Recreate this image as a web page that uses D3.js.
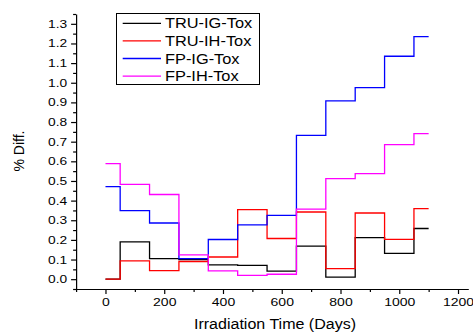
<!DOCTYPE html>
<html>
<head>
<meta charset="utf-8">
<script src="https://cdn.jsdelivr.net/npm/d3@7"></script>
<style>
  body { margin: 0; background: #fff; }
  svg { display: block; font-family: "Liberation Sans", Arial, sans-serif; }
</style>
</head>
<body>
<div id="chart"></div>
<script>
var width = 473;
var height = 333;

// data
var days = [0, 100, 200, 300, 400, 500, 600, 700, 800, 900, 1000, 1100];
var seriesNames = ["TRU-IG-Tox", "TRU-IH-Tox", "FP-IG-Tox", "FP-IH-Tox"];
var seriesColors = ["#000000", "#ff0000", "#0000ff", "#ff00ff"];
var truIG = [0.0, 0.19, 0.105, 0.10, 0.073, 0.07, 0.041, 0.168, 0.01, 0.212, 0.131, 0.258];
var truIH = [0.0, 0.093, 0.044, 0.09, 0.113, 0.354, 0.207, 0.342, 0.054, 0.337, 0.203, 0.359];
var fpIG = [0.471, 0.349, 0.286, 0.105, 0.202, 0.276, 0.325, 0.732, 0.908, 0.975, 1.135, 1.235];
var fpIH = [0.588, 0.483, 0.431, 0.124, 0.042, 0.019, 0.025, 0.357, 0.512, 0.537, 0.685, 0.741];
var xTicks = [0, 200, 400, 600, 800, 1000, 1200];
var xMinor = [-100, 100, 300, 500, 700, 900, 1100];
var yTicks = [0, 0.1, 0.2, 0.3, 0.4, 0.5, 0.6, 0.7, 0.8, 0.9, 1.0, 1.1, 1.2, 1.3];
var yMinor = [-0.05, 0.05, 0.15, 0.25, 0.35, 0.45, 0.55, 0.65, 0.75, 0.85, 0.95, 1.05, 1.15, 1.25, 1.35];

var allSeries = [truIG, truIH, fpIG, fpIH];

var x = d3.scaleLinear().domain([-100, 1235]).range([76.1, 468.3]);
var y = d3.scaleLinear().domain([-0.05, 1.35]).range([289, 14]);

var svg = d3.select("#chart")
            .append("svg")
            .attr("width", width)
            .attr("height", height);

// the text in the picture is a bit wider than it is tall
function stretch(sel, k) {
    sel.each(function() {
        var t = d3.select(this);
        var tx = +t.attr("x") || 0;
        var ty = +t.attr("y") || 0;
        t.attr("x", 0).attr("y", 0)
         .attr("transform", "translate(" + tx + "," + ty + ") scale(" + k + ",1)");
    });
}

// lines
var line = d3.line()
             .x((d, i) => x(days[i]))
             .y(d => y(d))
             .curve(d3.curveStep);

svg.selectAll(".series")
    .data(allSeries)
    .enter()
    .append("path")
    .attr("class", "series")
    .attr("d", line)
    .attr("fill", "none")
    .attr("stroke", (d, i) => seriesColors[i])
    .attr("stroke-width", 1.3);

// x axis
var xAxis = d3.axisBottom(x)
              .tickValues(xTicks)
              .tickSize(5)
              .tickSizeOuter(0)
              .tickPadding(4)
              .tickFormat(d3.format("d"));
var gx = svg.append("g")
            .attr("transform", "translate(0,289)")
            .call(xAxis);
gx.selectAll("text").style("font-size", "11.5px").attr("fill", "#000");
stretch(gx.selectAll("text"), 1.22);

svg.append("g")
    .attr("transform", "translate(0,289)")
    .call(d3.axisBottom(x).tickValues(xMinor).tickSize(3).tickSizeOuter(0).tickFormat(""))
    .select(".domain").remove();

// y axis
var yAxis = d3.axisLeft(y)
              .tickValues(yTicks)
              .tickSize(5)
              .tickSizeOuter(0)
              .tickPadding(4)
              .tickFormat(d3.format(".1f"));
var gy = svg.append("g")
            .attr("transform", "translate(76.1,0)")
            .call(yAxis);
gy.selectAll("text").style("font-size", "11px").attr("fill", "#000");
stretch(gy.selectAll("text"), 1.25);

svg.append("g")
    .attr("transform", "translate(76.1,0)")
    .call(d3.axisLeft(y).tickValues(yMinor).tickSize(3).tickSizeOuter(0).tickFormat(""))
    .select(".domain").remove();

svg.selectAll(".domain, .tick line")
    .attr("stroke", "#000")
    .attr("stroke-width", 1.2);

// axis titles
var xt = svg.append("text")
    .text("Irradiation Time (Days)")
    .attr("x", 275)
    .attr("y", 329)
    .attr("text-anchor", "middle")
    .style("font-size", "15px")
    .attr("fill", "#000");
stretch(xt, 1.07);

svg.append("text")
    .text("% Diff.")
    .attr("transform", "translate(24,151) rotate(-90)")
    .attr("text-anchor", "middle")
    .style("font-size", "14px")
    .attr("fill", "#000");

// legend
var legend = svg.append("g");
legend.append("rect")
    .attr("x", 116.5)
    .attr("y", 13.5)
    .attr("width", 143)
    .attr("height", 71)
    .attr("fill", "#fff")
    .attr("stroke", "#000")
    .attr("stroke-width", 1);

var rows = legend.selectAll(".row")
    .data(seriesNames)
    .enter()
    .append("g")
    .attr("class", "row")
    .attr("transform", (d, i) => "translate(0," + (23.3 + i * 17.6) + ")");

rows.append("line")
    .attr("x1", 122.7)
    .attr("x2", 161)
    .attr("stroke", (d, i) => seriesColors[i])
    .attr("stroke-width", 1.3);

var lt = rows.append("text")
    .text(d => d)
    .attr("x", 165)
    .attr("y", 5)
    .style("font-size", "14px")
    .attr("fill", "#000");
stretch(lt, 1.17);
</script>
</body>
</html>
